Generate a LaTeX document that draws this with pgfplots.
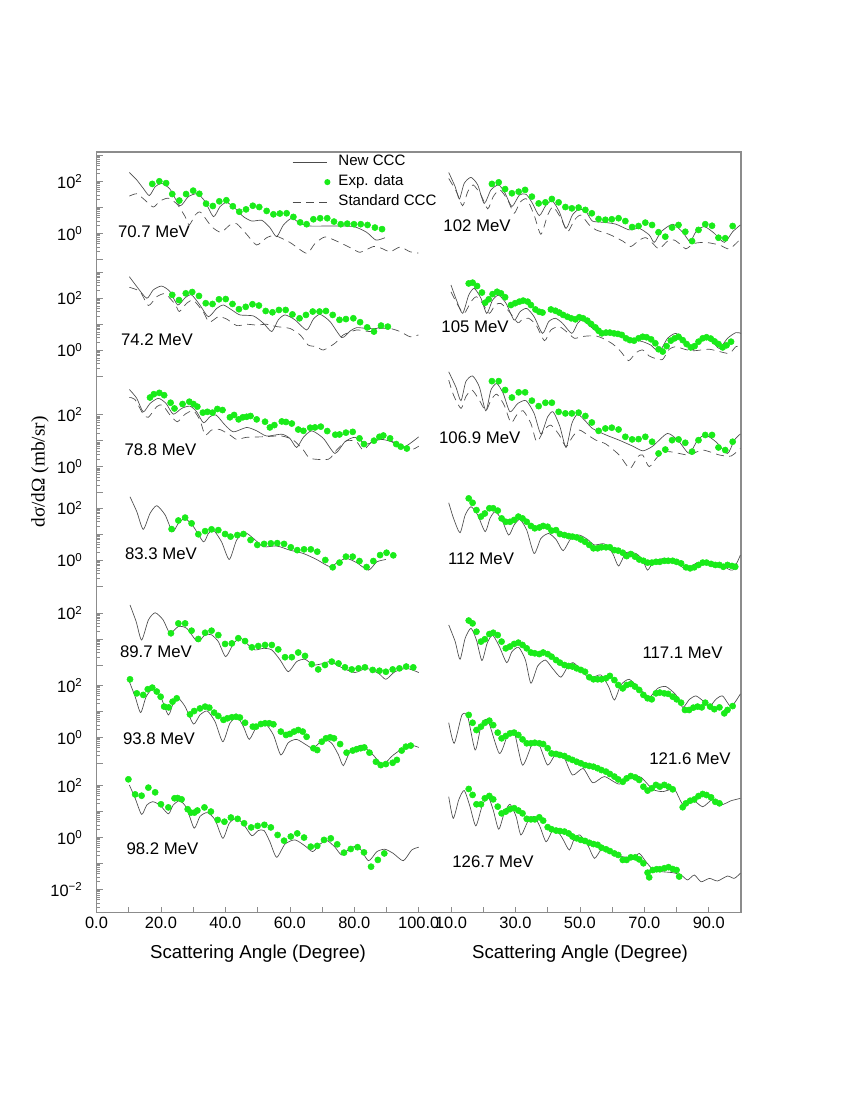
\documentclass[border=0pt]{standalone}
\usepackage{fontspec}
\setmainfont{Liberation Sans}
\newfontfamily\serifface{Liberation Serif}
\usepackage{pgfplots}
\pgfplotsset{compat=1.18}

\definecolor{expgreen}{RGB}{25,235,25}
\definecolor{framegray}{RGB}{140,140,140}
\newcommand\lbl{\fontsize{12.6}{15}\selectfont}

% y is in decades: log10(dsigma/dOmega) plus a shift for each energy
\pgfplotsset{
  ccc/.style={black!70, line width=0.5pt, no marks, smooth, tension=0.4},
  std/.style={black!70, line width=0.5pt, no marks, smooth, tension=0.4, dash pattern=on 6pt off 4pt},
  exp/.style={only marks, mark=*, mark size=2.3pt, color=expgreen},
  L/.style={forget plot, y filter/.expression={y+#1}},
  R/.style={forget plot, x filter/.expression={x+100}, y filter/.expression={y+#1}},
  lineimg/.style={legend image code/.code={\draw[##1] (0pt,0pt) -- (26pt,0pt);}},
  dotimg/.style={legend image code/.code={\path[draw=none,fill=none] (0pt,0pt) -- (26pt,0pt); \fill[expgreen, draw=none] (26pt,0pt) circle (2.3pt);}},
}

% tick marks of the left column (one log scale per energy)
\def\majt{-5}
\def\mint{-5}
\foreach \o/\lo/\hi in {26.131/-1/3, 21.642/-1/3, 17.154/-1/2, 13.565/-1/2, 9.527/0/2, 6.746/-1/2, 2.9/-3/2}{
  \foreach \e in {\lo,...,\hi}{
    \pgfmathsetmacro\t{\o+\e}
    \xdef\majt{\majt,\t}
    \ifnum\e<\hi\relax
      \foreach \m in {2,...,9}{
        \pgfmathsetmacro\s{\o+\e+log10(\m)}
        \xdef\mint{\mint,\s}
      }
    \fi
  }
}

\begin{document}
\begin{tikzpicture}
\useasboundingbox (0,0) rectangle (633.75pt,819.75pt);
\begin{axis}[
  at={(72.375pt,135.225pt)}, anchor=south west,
  scale only axis, width=483.4pt, height=570.5pt,
  xmin=0, xmax=200, ymin=0, ymax=29.257,
  clip=false,
  axis line style={framegray, line width=0.9pt},
  tick style={framegray, line width=0.5pt},
  tick align=inside, major tick length=4.5pt, minor tick length=2.5pt,
  xtick={0,10,...,200},
  xticklabels={0.0,,20.0,,40.0,,60.0,,80.0,,100.0,10.0,,30.0,,50.0,,70.0,,90.0,,},
  xtick pos=bottom, ytick pos=left,
  ytick/.expanded={\majt}, minor ytick/.expanded={\mint},
  yticklabels={},
  extra y ticks={28.131,26.131,23.642,21.642,19.154,17.154,15.565,13.565,11.527,8.746,6.746,4.9,2.9,0.9},
  extra y tick labels={10\textsuperscript{2},10\textsuperscript{0},10\textsuperscript{2},10\textsuperscript{0},10\textsuperscript{2},10\textsuperscript{0},10\textsuperscript{2},10\textsuperscript{0},10\textsuperscript{2},10\textsuperscript{2},10\textsuperscript{0},10\textsuperscript{2},10\textsuperscript{0},10\textsuperscript{−2}},
  tick label style={font=\fontsize{12.3}{14}\selectfont, black},
  yticklabel style={xshift=-7pt},
  legend cell align=left,
  legend style={at={(axis cs:60.7,29.2)}, anchor=north west, draw=none, fill=none,
    inner sep=0pt, row sep=2.5pt, font=\fontsize{11.3}{13}\selectfont,
    nodes={text height=8pt, text depth=2.5pt, inner sep=1pt},
    /tikz/every odd column/.style={column sep=5pt}},
]
\addlegendimage{ccc, lineimg}
\addlegendentry{New CCC}
\addlegendimage{exp, dotimg}
\addlegendentry{Exp. data}
\addlegendimage{std, lineimg}
\addlegendentry{Standard CCC}

% ---------- 70.7 MeV ----------
\addplot[ccc, L=26.131] coordinates {(10.2,2.34)(12.5,2.05)(14.5,1.73)(16.4,1.45)(18.2,1.79)(20.2,1.92)(22.8,1.70)(25.9,1.06)(28.5,1.41)(31.3,1.52)(33.7,1.22)(36.3,0.64)(38.3,1.02)(40.4,1.19)(43.0,0.96)(45.6,0.64)(48.2,0.47)(51.3,0.50)(53.8,0.22)(55.9,-0.13)(58.0,0.32)(60.6,0.58)(63.2,0.38)(66.3,0.28)(72.5,0.28)(79.7,0.26)(83.8,0.04)(86.7,-0.26)(89.5,-0.17)};
\addplot[std, L=26.131] coordinates {(10.2,1.43)(12.5,1.52)(15.0,1.28)(17.6,1.01)(19.7,1.24)(22.3,1.35)(25.1,1.11)(27.5,0.64)(28.8,0.32)(30.6,0.70)(32.3,0.81)(35.7,0.26)(38.6,0.04)(41.4,0.32)(43.5,0.37)(46.6,-0.04)(49.7,-0.45)(52.8,-0.17)(55.4,-0.09)(60.0,-0.35)(65.2,-0.77)(67.8,-0.39)(70.9,-0.14)(74.5,-0.30)(79.2,-0.58)(81.8,-0.73)(85.9,-0.51)(88.5,-0.58)(91.1,-0.71)(94.2,-0.53)(97.3,-0.71)(99.9,-0.76)};
\addplot[exp, L=26.131] coordinates {(17.3,1.90)(19.5,2.00)(21.6,1.93)(23.5,1.51)(25.7,1.26)(27.8,1.51)(30.0,1.64)(31.9,1.52)(34.0,1.14)(36.1,1.05)(38.1,1.23)(40.3,1.27)(42.3,1.04)(44.3,0.83)(46.4,0.92)(48.5,1.06)(50.5,1.01)(52.8,0.86)(54.9,0.73)(56.9,0.76)(59.0,0.77)(61.1,0.63)(63.2,0.42)(65.2,0.35)(67.3,0.54)(69.4,0.58)(71.6,0.58)(73.7,0.45)(75.8,0.35)(77.8,0.37)(79.9,0.35)(82.0,0.35)(84.1,0.32)(86.4,0.22)(88.6,0.16)};

% ---------- 74.2 MeV ----------
\addplot[ccc, L=21.642] coordinates {(10.2,2.82)(12.5,2.44)(15.6,1.99)(17.6,2.31)(20.2,2.46)(22.8,2.25)(25.2,1.73)(27.5,2.01)(29.5,2.12)(32.1,1.73)(34.7,1.28)(37.3,1.60)(39.4,1.73)(42.0,1.54)(44.5,1.35)(48.7,1.31)(51.8,1.03)(54.4,0.71)(56.4,1.16)(58.5,1.35)(61.6,1.16)(65.2,0.77)(67.3,1.19)(69.4,1.37)(72.5,1.09)(76.1,0.48)(78.7,0.73)(80.7,0.86)(83.8,0.83)(86.9,0.83)(89.0,0.96)};
\addplot[std, L=21.642] coordinates {(10.2,2.41)(13.5,2.25)(16.1,1.71)(18.7,2.05)(21.3,2.16)(24.4,1.76)(25.7,1.48)(28.0,1.80)(30.1,1.91)(33.2,1.45)(35.0,1.07)(37.8,1.28)(40.4,1.19)(43.5,0.94)(46.6,0.99)(49.7,0.96)(52.8,0.99)(55.9,0.90)(60.0,0.83)(63.2,0.58)(65.7,0.19)(68.3,0.13)(70.4,0.0)(74.0,0.26)(76.6,0.58)(80.7,0.77)(84.9,0.71)(88.0,0.83)(91.1,0.83)(94.2,0.71)(97.3,0.51)(99.9,0.58)};
\addplot[exp, L=21.642] coordinates {(23.5,2.12)(25.6,1.92)(27.7,2.18)(29.7,2.23)(31.8,2.08)(33.9,1.80)(36.0,1.77)(38.0,1.95)(40.1,1.96)(42.2,1.77)(44.2,1.57)(46.3,1.66)(48.4,1.76)(50.4,1.71)(52.5,1.50)(54.6,1.45)(56.6,1.54)(58.7,1.54)(60.8,1.37)(63.0,1.22)(65.0,1.35)(67.1,1.48)(69.2,1.48)(71.2,1.50)(73.3,1.35)(75.4,1.16)(77.4,1.19)(79.7,1.22)(81.8,1.07)(84.0,0.87)(86.1,0.71)(88.3,0.94)(90.4,0.90)};

% ---------- 78.8 MeV ----------
\addplot[ccc, L=17.154] coordinates {(10.2,2.97)(12.5,2.63)(14.5,2.11)(16.6,2.43)(19.2,2.63)(21.6,2.43)(23.8,2.02)(26.4,2.24)(29.0,2.33)(31.1,2.11)(33.2,1.69)(35.2,1.92)(37.1,1.99)(39.9,1.60)(42.5,1.34)(46.6,1.51)(49.7,1.38)(52.8,1.18)(57.5,1.25)(60.0,1.09)(62.1,0.74)(64.2,1.13)(66.8,1.38)(70.4,1.09)(74.0,0.51)(77.1,0.96)(80.2,1.13)(83.8,0.87)(88.0,1.05)(91.6,0.96)(95.2,0.74)(100,1.15)};
\addplot[std, L=17.154] coordinates {(10.2,2.66)(11.9,2.59)(14.5,2.02)(16.1,1.90)(18.7,2.31)(20.5,2.37)(22.8,1.99)(25.1,1.73)(27.5,2.02)(30.1,2.15)(32.1,1.79)(33.7,1.22)(35.7,1.41)(38.3,1.43)(41.4,1.22)(43.5,1.05)(46.6,1.13)(51.8,1.15)(57.5,1.18)(61.1,1.02)(64.2,0.64)(66.3,0.32)(72.0,0.29)(74.5,0.64)(77.6,1.0)(80.7,0.96)(82.8,0.64)(85.9,1.02)(89.0,1.06)(93.2,0.90)(97.3,0.64)(100,0.79)};
\addplot[exp, L=17.154] coordinates {(16.6,2.66)(17.8,2.79)(19.5,2.84)(21.0,2.75)(23.0,2.46)(24.2,2.24)(26.7,2.41)(28.8,2.50)(30.1,2.41)(31.3,2.31)(33.0,2.08)(34.4,2.11)(36.0,2.08)(37.5,2.22)(39.1,2.18)(41.4,1.90)(42.7,1.99)(44.1,1.82)(45.4,1.90)(46.6,1.92)(47.8,1.95)(49.7,1.82)(52.3,1.73)(53.8,1.51)(55.2,1.60)(57.5,1.74)(58.8,1.72)(60.6,1.66)(62.6,1.43)(64.2,1.38)(66.3,1.50)(67.8,1.51)(69.6,1.54)(71.6,1.37)(74.1,1.23)(75.4,1.24)(77.4,1.31)(79.5,1.34)(81.6,1.09)(83.0,0.87)(86.1,1.0)(87.8,1.15)(89.0,1.2)(91.1,1.09)(93.0,0.87)(94.4,0.77)(96.3,0.70)};

% ---------- 83.3 MeV ----------
\addplot[ccc, L=13.565] coordinates {(10.4,2.43)(12.5,1.86)(14.5,1.18)(16.6,1.79)(18.7,2.09)(21.3,1.73)(23.6,1.09)(25.4,1.41)(27.5,1.60)(30.1,1.28)(33.2,0.70)(34.7,1.02)(36.3,1.15)(38.8,0.70)(41.2,0.02)(43.5,0.77)(46.1,1.05)(48.7,0.83)(51.8,0.51)(55.9,0.54)(60.0,0.38)(64.2,0.25)(68.3,0.02)(72.5,-0.26)(75.0,-0.07)(77.6,0.06)(80.7,-0.10)(84.4,-0.39)(87.0,-0.07)(89.8,0.02)};
\addplot[exp, L=13.565] coordinates {(23.3,1.19)(25.4,1.52)(27.5,1.63)(29.5,1.41)(31.6,0.99)(33.7,1.11)(35.7,1.18)(37.8,1.15)(39.9,1.0)(41.6,0.9)(43.7,0.96)(45.6,1.0)(47.8,0.77)(49.9,0.58)(52.0,0.62)(54.1,0.64)(56.1,0.65)(58.2,0.62)(60.3,0.49)(62.3,0.38)(64.4,0.41)(66.5,0.41)(68.5,0.32)(71.0,0.0)(73.3,-0.28)(75.4,-0.10)(77.4,0.13)(79.5,0.13)(81.6,-0.04)(83.8,-0.27)(85.9,-0.04)(88.0,0.19)(90.0,0.28)(92.1,0.18)};

% ---------- 89.7 MeV ----------
\addplot[ccc, L=9.527] coordinates {(10.4,2.31)(12.3,1.67)(14.0,0.96)(16.1,1.73)(18.2,2.01)(20.7,1.73)(22.8,1.22)(25.4,1.48)(28.0,1.41)(31.3,0.90)(33.7,1.16)(35.7,1.16)(37.8,0.90)(40.1,0.32)(42.5,0.83)(44.7,1.03)(47.1,0.77)(49.2,0.58)(51.8,0.64)(54.4,0.58)(57.0,0.19)(59.5,-0.26)(62.1,0.13)(64.7,0.22)(67.3,0.0)(70.4,0.06)(72.5,0.13)(76.6,-0.13)(80.2,-0.29)(83.8,-0.13)(87.5,-0.32)(89.8,-0.55)(92.6,-0.26)(96.3,-0.13)(100,-0.29)};
\addplot[exp, L=9.527] coordinates {(23.1,1.22)(25.4,1.60)(27.5,1.60)(29.5,1.32)(31.6,1.0)(33.7,1.24)(35.7,1.32)(37.8,1.15)(39.9,0.81)(42.0,0.83)(44.0,1.03)(46.1,0.92)(48.2,0.68)(50.2,0.73)(52.3,0.77)(54.4,0.77)(56.4,0.60)(58.5,0.30)(60.6,0.30)(62.6,0.48)(64.7,0.35)(66.8,0.03)(68.8,-0.17)(70.9,0.0)(73.0,0.13)(75.1,0.06)(77.1,-0.09)(79.2,-0.17)(81.3,-0.13)(83.3,-0.09)(85.7,-0.19)(87.8,-0.22)(89.8,-0.26)(91.9,-0.17)(94.0,-0.13)(96.1,-0.06)(98.3,-0.09)};

% ---------- 93.8 MeV ----------
\addplot[ccc, L=6.746] coordinates {(10.2,2.14)(12.0,1.56)(13.7,0.95)(15.4,1.56)(17.6,1.88)(19.9,1.56)(22.3,0.86)(23.8,1.31)(25.4,1.50)(27.5,1.18)(30.1,0.51)(32.1,0.86)(34.4,1.01)(36.8,0.60)(39.2,-0.17)(41.4,0.54)(43.7,0.77)(45.6,0.41)(47.4,-0.08)(49.7,0.41)(52.3,0.54)(54.9,0.09)(57.2,-0.68)(59.5,-0.21)(62.1,-0.08)(65.2,-0.30)(67.3,-0.42)(70.4,-0.08)(73.0,-0.23)(75.1,-0.68)(76.6,-1.09)(78.7,-0.55)(82.3,-0.30)(85.4,-0.62)(88.8,-1.04)(92.1,-0.68)(96.8,-0.30)(100,-0.39)};
\addplot[exp, L=6.746] coordinates {(10.4,2.23)(12.5,1.69)(14.5,1.63)(15.9,1.85)(17.3,1.91)(18.7,1.76)(19.9,1.56)(21.0,1.18)(22.4,1.15)(23.6,1.37)(24.9,1.5)(29.0,0.88)(30.3,1.01)(32.1,1.11)(33.7,1.18)(35.0,1.14)(36.5,0.95)(37.8,0.82)(39.4,0.67)(40.6,0.73)(42.0,0.77)(43.3,0.79)(44.5,0.76)(46.1,0.56)(48.5,0.41)(49.5,0.41)(51.0,0.51)(52.3,0.54)(53.6,0.54)(54.9,0.5)(57.2,0.22)(58.8,0.09)(60.0,0.13)(61.3,0.22)(62.6,0.28)(64.0,0.22)(65.2,0.02)(67.3,-0.42)(68.5,-0.49)(69.9,-0.17)(71.2,-0.04)(72.5,0.0)(73.7,-0.04)(75.6,-0.26)(77.6,-0.59)(79.5,-0.51)(80.7,-0.46)(82.0,-0.42)(83.1,-0.39)(84.7,-0.59)(86.7,-0.94)(88.2,-1.07)(89.8,-1.03)(91.9,-0.98)(93.2,-0.87)(94.7,-0.51)(96.0,-0.36)(97.5,-0.32)};

% ---------- 98.2 MeV ----------
\addplot[ccc, L=2.9] coordinates {(10.2,2.01)(12.0,1.5)(14.0,0.88)(15.6,1.24)(17.4,1.37)(19.7,1.24)(22.3,0.90)(23.8,1.24)(25.9,1.41)(28.0,1.12)(30.3,0.35)(32.1,0.8)(34.4,0.95)(36.8,0.67)(39.2,-0.04)(41.2,0.54)(43.5,0.73)(45.8,0.47)(48.2,0.06)(50.2,0.26)(52.0,0.26)(53.8,-0.17)(55.9,-0.77)(58.5,-0.26)(61.6,-0.10)(64.7,-0.33)(67.1,-0.55)(69.4,-0.26)(71.6,-0.13)(74.0,-0.38)(76.1,-0.68)(78.7,-0.42)(81.3,-0.36)(84.4,-0.90)(87.0,-0.55)(89.5,-0.46)(92.1,-0.62)(95.2,-0.90)(97.8,-0.49)(100,-0.38)};
\addplot[exp, L=2.9] coordinates {(9.9,2.23)(12.0,1.65)(14.0,1.60)(16.1,1.91)(18.2,1.73)(20.0,1.27)(22.3,1.15)(24.2,1.50)(25.2,1.51)(26.4,1.46)(28.3,1.08)(29.3,0.95)(30.4,0.95)(31.3,1.03)(33.5,1.15)(35.5,0.99)(37.6,0.67)(39.7,0.6)(41.7,0.76)(43.8,0.71)(45.8,0.54)(48.0,0.38)(50.0,0.44)(52.1,0.48)(54.1,0.38)(56.2,0.09)(58.2,-0.13)(60.3,0.03)(62.3,0.15)(64.4,-0.01)(66.5,-0.36)(68.5,-0.33)(70.6,-0.10)(72.7,-0.04)(74.7,-0.27)(76.8,-0.59)(78.9,-0.45)(81.0,-0.38)(83.0,-0.58)(85.2,-1.13)(87.3,-0.87)(89.3,-0.62)};

% ---------- 102 MeV ----------
\addplot[ccc, R=26.131] coordinates {(9.3,2.34)(11.3,1.79)(12.6,1.32)(14.1,1.92)(16.2,2.15)(18.3,1.86)(20.3,1.15)(22.4,1.67)(24.8,1.86)(26.8,1.54)(28.9,1.03)(31.2,1.47)(33.3,1.50)(35.3,1.15)(37.4,0.68)(39.5,1.09)(41.5,1.24)(43.6,0.83)(45.7,0.19)(47.7,0.71)(49.8,0.93)(51.9,0.83)(53.9,0.47)(57.6,0.42)(61.2,0.35)(65.3,0.13)(68.4,0.19)(71.5,-0.06)(73.1,-0.35)(75.2,0.06)(78.8,0.35)(81.9,0.04)(84.2,-0.32)(86.0,0.06)(88.6,0.26)(91.7,0.0)(94.8,-0.35)(97.4,0.06)(99.8,0.32)};
\addplot[std, R=26.131] coordinates {(9.3,2.11)(11.7,1.6)(13.6,1.06)(15.2,1.6)(16.9,1.86)(19.3,1.47)(21.4,0.94)(23.1,1.41)(25.2,1.67)(27.6,1.28)(29.6,0.77)(31.4,1.19)(33.5,1.32)(35.8,0.7)(37.9,-0.04)(40.0,0.70)(41.7,1.02)(44.1,0.58)(46.2,0.06)(48.3,0.51)(50.3,0.70)(52.9,0.32)(55.0,0.13)(59.1,-0.04)(63.3,-0.30)(65.8,-0.51)(68.4,-0.26)(70.5,-0.17)(72.6,-0.39)(74.6,-0.60)(77.2,-0.30)(79.3,-0.26)(81.4,-0.45)(82.9,-0.60)(85.5,-0.39)(89.1,-0.35)(93.3,-0.45)(96.4,-0.60)(99.8,-0.22)};
\addplot[exp, R=26.131] coordinates {(22.7,1.90)(24.8,1.96)(26.8,1.70)(28.9,1.54)(31.0,1.60)(33.0,1.67)(35.1,1.41)(37.2,1.15)(39.3,1.19)(41.3,1.32)(43.4,1.19)(45.5,1.01)(47.5,0.96)(49.6,0.99)(51.7,0.9)(53.7,0.77)(55.8,0.55)(57.9,0.52)(59.9,0.54)(62.0,0.58)(64.1,0.47)(66.2,0.24)(68.2,0.28)(70.3,0.41)(72.4,0.32)(74.4,0.04)(76.5,-0.13)(78.6,0.22)(80.6,0.32)(82.7,0.06)(84.8,-0.30)(86.8,0.13)(88.9,0.35)(91.0,0.29)(93.0,-0.17)(95.1,-0.19)(97.4,0.28)};

% ---------- 105 MeV ----------
\addplot[ccc, R=21.642] coordinates {(10.0,2.50)(11.7,1.92)(13.6,1.41)(15.5,2.11)(17.2,2.37)(19.3,1.99)(21.1,1.41)(22.9,1.92)(24.8,2.11)(27.1,1.79)(29.6,1.15)(31.4,1.47)(33.5,1.60)(35.8,1.28)(38.4,0.64)(40.3,1.09)(42.4,1.22)(44.6,1.03)(47.5,0.64)(49.3,1.03)(50.8,1.15)(54.0,0.83)(57.1,0.58)(61.2,0.62)(65.3,0.45)(69.5,0.32)(72.0,0.19)(74.6,-0.06)(77.2,0.45)(79.8,0.64)(82.4,0.38)(85.0,0.0)(87.1,0.38)(89.1,0.54)(91.2,0.32)(93.3,0.06)(95.8,0.45)(98.4,0.67)(100,0.64)};
\addplot[std, R=21.642] coordinates {(10.0,2.24)(12.1,1.73)(14.1,1.41)(16.2,1.86)(17.9,2.05)(19.8,1.79)(21.9,1.41)(23.7,1.73)(25.5,1.79)(28.1,1.47)(30.7,1.05)(32.2,1.18)(34.1,1.22)(36.4,0.96)(39.0,0.36)(41.0,0.77)(43.6,0.90)(46.2,0.67)(48.3,0.45)(50.3,0.51)(52.4,0.54)(55.0,0.54)(57.1,0.45)(60.2,0.23)(62.7,-0.06)(65.1,-0.41)(67.4,-0.10)(69.5,0.0)(71.5,-0.23)(73.6,-0.33)(75.7,-0.36)(77.7,0.03)(79.8,0.13)(82.4,0.03)(85.0,-0.03)(87.6,0.0)(90.2,0.03)(93.3,-0.06)(96.4,-0.13)(98.4,0.13)(100,0.15)};
\addplot[exp, R=21.642] coordinates {(15.5,2.56)(16.7,2.59)(18.1,2.46)(19.6,2.21)(20.6,1.82)(21.7,1.95)(22.9,2.15)(24.3,2.24)(25.5,2.18)(26.8,2.03)(28.6,1.73)(29.9,1.80)(31.2,1.86)(32.4,1.90)(33.8,1.86)(34.8,1.73)(36.2,1.56)(37.4,1.47)(38.4,1.44)(41.0,1.56)(42.4,1.51)(43.6,1.44)(44.8,1.35)(46.1,1.28)(47.3,1.22)(48.6,1.18)(49.8,1.26)(51.0,1.22)(52.3,1.13)(53.5,1.0)(54.8,0.87)(55.8,0.74)(56.8,0.64)(58.1,0.67)(59.3,0.67)(60.6,0.64)(61.8,0.62)(63.0,0.58)(64.3,0.45)(65.5,0.38)(66.8,0.36)(68.2,0.45)(69.5,0.51)(70.7,0.49)(72.1,0.41)(73.4,0.26)(74.4,0.03)(75.7,-0.06)(76.9,0.15)(78.2,0.36)(79.4,0.45)(80.6,0.51)(81.9,0.38)(83.1,0.23)(84.4,0.10)(85.6,0.15)(86.8,0.32)(88.1,0.45)(89.3,0.49)(90.6,0.44)(91.8,0.33)(93.0,0.23)(94.3,0.10)(95.5,0.18)(96.9,0.32)};

% ---------- 106.9 MeV ----------
\addplot[ccc, R=17.154] coordinates {(9.3,3.65)(11.5,3.07)(13.1,2.54)(14.6,3.27)(16.7,3.49)(18.8,3.07)(20.8,2.15)(22.4,2.95)(24.2,3.20)(26.2,2.82)(28.3,2.11)(30.7,2.43)(33.3,2.54)(35.8,2.05)(37.9,1.26)(40.0,1.92)(41.7,2.11)(43.8,1.54)(45.7,0.74)(47.5,1.66)(49.3,2.02)(51.9,1.73)(53.9,1.47)(58.1,1.22)(62.2,1.02)(66.4,0.79)(69.5,0.61)(72.6,0.79)(77.2,1.28)(80.8,0.96)(83.9,0.51)(86.5,1.02)(88.9,1.22)(92.2,0.96)(95.8,0.51)(97.9,1.02)(99.8,1.26)};
\addplot[std, R=17.154] coordinates {(9.3,3.33)(10.8,2.75)(13.1,2.24)(14.6,2.69)(16.5,2.95)(18.8,2.56)(20.8,2.15)(22.4,2.56)(24.2,2.79)(26.5,2.37)(28.6,1.69)(30.4,1.99)(32.4,2.15)(34.8,1.66)(36.6,0.96)(38.9,1.41)(41.0,1.60)(43.6,1.22)(45.7,0.77)(47.7,1.15)(49.8,1.41)(52.4,1.22)(55.0,1.02)(58.1,0.87)(62.2,0.45)(65.5,-0.07)(67.9,0.38)(69.5,0.45)(71.5,0.0)(74.1,0.38)(77.2,0.58)(80.8,0.51)(83.9,0.45)(88.1,0.64)(93.3,0.45)(96.9,0.41)(99.8,0.70)};
\addplot[exp, R=17.154] coordinates {(22.7,3.29)(24.8,3.29)(26.8,2.95)(28.9,2.66)(31.0,2.86)(33.0,2.86)(35.1,2.54)(37.2,2.33)(39.3,2.46)(41.3,2.46)(43.4,2.11)(45.5,2.05)(47.5,2.05)(49.6,2.08)(51.7,1.95)(53.7,1.70)(55.8,1.38)(57.9,1.47)(59.9,1.50)(62.0,1.43)(64.1,1.15)(66.2,1.05)(68.2,1.06)(70.3,1.15)(72.4,0.96)(74.4,0.51)(76.5,0.66)(78.6,1.02)(80.6,1.05)(82.7,0.92)(84.8,0.58)(86.8,1.02)(88.9,1.22)(91.0,1.22)(93.0,0.74)(95.1,0.64)(97.4,0.96)};

% ---------- 112 MeV ----------
\addplot[ccc, R=13.565] coordinates {(9.3,2.20)(10.8,1.60)(12.8,1.05)(14.4,1.73)(16.2,2.05)(18.3,1.73)(20.6,1.09)(22.1,1.60)(23.7,1.86)(25.8,1.54)(27.9,0.96)(29.6,1.35)(31.4,1.56)(33.5,1.15)(35.8,0.25)(37.9,0.83)(40.3,1.02)(42.6,0.79)(44.8,0.36)(47.2,0.83)(49.8,0.96)(52.4,0.79)(54.5,0.58)(57.6,0.62)(60.2,0.25)(62.0,-0.23)(64.3,0.28)(67.4,0.25)(69.5,0.0)(71.0,-0.39)(73.1,-0.03)(76.7,0.06)(79.8,-0.07)(82.9,-0.36)(86.0,-0.13)(90.2,-0.10)(94.3,-0.23)(97.4,-0.39)(99.8,0.19)};
\addplot[exp, R=13.565] coordinates {(15.5,2.37)(16.7,2.20)(17.9,1.92)(19.3,1.67)(20.5,1.79)(21.9,1.99)(23.1,1.99)(24.5,1.90)(25.7,1.60)(27.0,1.47)(28.3,1.47)(29.6,1.54)(30.9,1.67)(32.2,1.60)(33.5,1.47)(34.8,1.31)(36.0,1.22)(37.4,1.25)(38.6,1.31)(40.0,1.28)(41.2,1.13)(42.6,1.15)(43.8,1.0)(45.2,0.96)(46.5,0.92)(47.7,0.90)(49.0,0.87)(50.3,0.79)(51.6,0.70)(52.9,0.58)(54.2,0.45)(55.5,0.45)(56.7,0.49)(58.1,0.49)(59.3,0.49)(60.7,0.38)(61.9,0.36)(63.3,0.28)(64.5,0.15)(65.8,0.23)(67.1,0.13)(68.4,0.02)(69.7,-0.03)(71.0,-0.10)(72.3,-0.10)(73.6,-0.07)(74.8,-0.07)(76.2,-0.03)(77.4,-0.03)(78.8,-0.03)(80.0,-0.07)(81.4,-0.13)(82.9,-0.28)(84.2,-0.32)(85.5,-0.28)(86.8,-0.19)(88.1,-0.10)(89.3,-0.10)(90.7,-0.15)(92.0,-0.19)(93.3,-0.19)(94.5,-0.26)(95.8,-0.19)(97.2,-0.23)(98.2,-0.26)};

% ---------- 117.1 MeV ----------
\addplot[ccc, R=9.527] coordinates {(9.3,1.54)(11.3,0.90)(12.8,0.22)(14.4,1.03)(16.2,1.41)(17.9,0.96)(19.6,0.17)(21.2,0.83)(22.9,1.15)(25.0,0.71)(27.3,0.09)(28.9,0.51)(31.0,0.68)(33.1,0.19)(34.8,-0.70)(36.9,-0.04)(39.3,0.19)(41.5,-0.13)(44.1,-0.47)(46.2,-0.06)(47.9,0.09)(50.3,-0.17)(52.9,-0.51)(56.5,-0.38)(58.9,-0.83)(60.7,-1.35)(62.7,-0.77)(65.3,-0.55)(68.4,-0.90)(71.5,-1.24)(74.1,-0.90)(76.7,-0.83)(79.8,-1.15)(81.9,-1.63)(84.0,-1.32)(86.0,-1.19)(88.1,-1.37)(90.2,-1.60)(92.2,-1.32)(94.3,-1.19)(96.9,-1.60)(99.8,-1.11)};
\addplot[exp, R=9.527] coordinates {(15.5,1.71)(16.7,1.60)(17.9,1.28)(19.3,0.90)(20.5,0.99)(21.9,1.19)(23.1,1.24)(24.5,1.15)(25.7,0.90)(27.0,0.64)(28.3,0.71)(29.6,0.81)(30.9,0.86)(32.2,0.77)(33.5,0.64)(34.8,0.48)(36.0,0.45)(37.4,0.42)(38.6,0.48)(40.0,0.42)(41.2,0.32)(42.6,0.19)(43.8,0.09)(45.2,0.0)(46.5,-0.04)(47.7,-0.06)(49.0,-0.13)(50.3,-0.19)(51.6,-0.26)(52.9,-0.47)(54.2,-0.55)(55.5,-0.55)(56.7,-0.55)(58.1,-0.51)(59.3,-0.42)(60.7,-0.58)(61.9,-0.77)(63.3,-0.90)(64.5,-0.77)(65.8,-0.73)(67.1,-0.83)(68.4,-0.96)(69.7,-1.15)(71.0,-1.28)(72.3,-1.32)(73.6,-1.09)(74.8,-1.06)(76.2,-1.09)(77.4,-1.11)(78.8,-1.22)(80.0,-1.32)(81.4,-1.45)(82.6,-1.73)(83.9,-1.73)(85.2,-1.64)(86.5,-1.60)(87.8,-1.63)(88.9,-1.45)(90.4,-1.60)(91.7,-1.70)(93.3,-1.63)(94.8,-1.86)(95.8,-1.73)(97.4,-1.58)};

% ---------- 121.6 MeV ----------
\addplot[ccc, R=6.746] coordinates {(9.3,0.56)(11.0,-0.23)(13.4,0.86)(15.2,0.79)(17.5,-0.49)(19.3,0.41)(21.4,0.67)(25.0,-0.62)(27.6,0.09)(29.6,0.22)(32.2,-1.07)(35.3,-0.23)(37.4,-0.30)(40.0,-1.07)(42.6,-0.62)(45,-0.75)(47.7,-1.45)(51,-1.2)(54,-1.75)(57.6,-1.51)(62.2,-1.8)(66.4,-1.49)(69,-1.54)(72.6,-2.0)(75.7,-2.09)(79.3,-2.0)(81.9,-2.57)(85,-2.41)(88.1,-2.67)(91.2,-2.39)(93.8,-2.6)(96.9,-2.44)(99.8,-2.35)};
\addplot[exp, R=6.746] coordinates {(15.5,0.86)(16.7,0.56)(17.9,0.28)(19.3,0.41)(20.5,0.56)(21.9,0.64)(23.1,0.47)(24.5,0.18)(25.7,-0.04)(27.0,0.05)(28.3,0.15)(29.6,0.18)(30.9,0.09)(32.2,-0.08)(33.5,-0.23)(34.8,-0.23)(36.0,-0.21)(37.4,-0.23)(38.6,-0.26)(40.0,-0.42)(41.2,-0.62)(42.6,-0.64)(43.8,-0.68)(45.2,-0.72)(46.5,-0.81)(47.7,-0.87)(49.0,-0.94)(50.3,-1.0)(51.6,-1.07)(52.9,-1.10)(54.2,-1.13)(55.5,-1.19)(56.7,-1.26)(58.1,-1.32)(59.3,-1.41)(60.7,-1.51)(61.9,-1.62)(63.3,-1.71)(64.5,-1.58)(65.8,-1.49)(67.2,-1.54)(68.4,-1.64)(69.7,-1.90)(71.0,-2.05)(72.3,-1.96)(73.6,-1.83)(74.8,-1.90)(76.2,-1.83)(77.5,-1.90)(78.8,-2.0)(81.9,-2.69)(82.9,-2.54)(84.2,-2.44)(85.5,-2.39)(86.8,-2.26)(88.1,-2.18)(89.3,-2.22)(90.7,-2.31)(92.0,-2.48)(93.3,-2.54)};

% ---------- 126.7 MeV ----------
\addplot[ccc, R=2.9] coordinates {(9.3,1.56)(10.7,0.73)(12.4,1.44)(14.1,1.80)(15.9,1.18)(17.7,0.44)(19.6,1.18)(21.4,1.59)(23.1,1.05)(24.8,0.31)(26.5,0.92)(28.3,1.27)(30.2,0.80)(31.7,0.09)(33.8,0.60)(35.8,0.80)(37.6,0.41)(39.5,-0.17)(41.3,0.22)(42.6,0.31)(44.6,-0.04)(46.7,-0.49)(48.3,-0.04)(50.0,0.09)(52.4,-0.29)(54.5,-0.81)(56.5,-0.49)(58.6,-0.46)(60.7,-0.62)(62.7,-0.74)(64.8,-0.77)(66.4,-0.85)(68.4,-0.62)(70.5,-0.94)(72.6,-1.23)(75.2,-1.32)(78.8,-1.36)(81.4,-1.45)(83.4,-1.64)(85.5,-1.45)(87.6,-1.71)(90.2,-1.58)(92.7,-1.68)(95.8,-1.49)(97.9,-1.58)(99.8,-1.38)};
\addplot[exp, R=2.9] coordinates {(15.5,1.86)(16.7,1.63)(17.9,1.27)(19.3,1.27)(20.5,1.50)(21.9,1.59)(23.1,1.46)(24.5,1.18)(25.7,0.92)(27.0,0.99)(28.3,1.08)(29.6,1.12)(30.9,1.03)(32.2,0.92)(33.5,0.71)(34.8,0.69)(36.0,0.69)(37.4,0.77)(38.6,0.64)(40.0,0.39)(41.2,0.31)(42.6,0.26)(43.8,0.24)(45.2,0.22)(46.5,0.15)(47.7,0.03)(49.0,-0.04)(50.3,-0.10)(51.6,-0.14)(52.9,-0.21)(54.2,-0.26)(55.5,-0.29)(56.7,-0.40)(58.1,-0.46)(59.3,-0.53)(60.7,-0.62)(61.9,-0.68)(63.3,-0.87)(64.5,-0.87)(65.8,-0.77)(67.2,-0.77)(68.4,-0.85)(69.7,-1.0)(71.0,-1.36)(71.5,-1.54)(72.6,-1.26)(73.8,-1.23)(74.8,-1.23)(76.2,-1.19)(77.5,-1.15)(78.8,-1.22)(80.0,-1.26)(80.8,-1.51)};

% energy labels
\node[font=\lbl] at (axis cs:17.84,26.19) {70.7 MeV};
\node[font=\lbl] at (axis cs:18.77,22.03) {74.2 MeV};
\node[font=\lbl] at (axis cs:19.86,17.80) {78.8 MeV};
\node[font=\lbl] at (axis cs:20.02,13.82) {83.3 MeV};
\node[font=\lbl] at (axis cs:18.46,10.04) {89.7 MeV};
\node[font=\lbl] at (axis cs:19.39,6.71) {93.8 MeV};
\node[font=\lbl] at (axis cs:20.48,2.48) {98.2 MeV};
\node[font=\lbl] at (axis cs:118.08,26.42) {102 MeV};
\node[font=\lbl] at (axis cs:117.46,22.52) {105 MeV};
\node[font=\lbl] at (axis cs:118.91,18.25) {106.9 MeV};
\node[font=\lbl] at (axis cs:119.32,13.63) {112 MeV};
\node[font=\lbl] at (axis cs:181.85,9.98) {117.1 MeV};
\node[font=\lbl] at (axis cs:184.17,5.94) {121.6 MeV};
\node[font=\lbl] at (axis cs:123.04,1.96) {126.7 MeV};
\end{axis}
\node[font=\fontsize{14}{16}\selectfont] at (193.5pt,104.8pt) {Scattering Angle (Degree)};
\node[font=\fontsize{14}{16}\selectfont] at (435pt,104.8pt) {Scattering Angle (Degree)};
\node[font=\serifface\fontsize{14.5}{16}\selectfont, rotate=90] at (30pt,465.75pt) {dσ/dΩ (mb/sr)};
\end{tikzpicture}
\end{document}
